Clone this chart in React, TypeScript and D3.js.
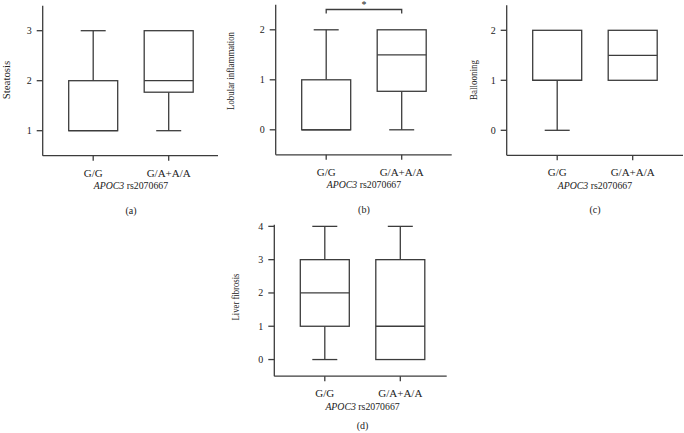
import React from "react";
import * as d3 from "d3";

// ---- data ----
const categories = ["G/G", "G/A+A/A"];
// [min, q1, median, q3, max]
const steatosisStats = [
  [1, 1, 1, 2, 3],
  [1, 1.77, 2, 3, 3],
];
const lobularStats = [
  [0, 0, 0, 1, 2],
  [0, 0.77, 1.5, 2, 2],
];
const ballooningStats = [
  [0, 1, 1, 2, 2],
  [1, 1, 1.5, 2, 2],
];
const fibrosisStats = [
  [0, 1, 2, 3, 4],
  [0, 0, 1, 3, 4],
];
const steatosisTicks = [1, 2, 3];
const lobularTicks = [0, 1, 2];
const ballooningTicks = [0, 1, 2];
const fibrosisTicks = [0, 1, 2, 3, 4];
const xTitle = "rs2070667";
const geneName = "APOC3";

const FONT = "'Liberation Serif', 'DejaVu Serif', serif";
const LINE = "#3c3c3c";
const TEXT = "#222";

type PanelProps = {
  stats: number[][];
  ticks: number[];
  domain: [number, number];
  x0: number;
  x1: number;
  yBottom: number;
  yTop: number;
  yLabel: string;
  yLabelX: number;
  yLabelY: number;
  yLabelLen: number;
  letter: string;
  letterDy?: number;
  sig?: boolean;
};

function Panel(p: PanelProps) {
  const y = d3.scaleLinear().domain(p.domain).range([p.yBottom, p.yTop]);
  const x = d3
    .scalePoint<string>()
    .domain(categories)
    .range([p.x0 + 50.5, p.x0 + 126]);
  const boxW = 49;
  const capW = 25;
  const cx0 = x(categories[0])!;
  const cx1 = x(categories[1])!;
  return (
    <g>
      {/* y axis */}
      <line x1={p.x0} x2={p.x0} y1={p.yTop} y2={p.yBottom} stroke={LINE} strokeWidth={1.3} />
      {p.ticks.map((t) => (
        <g key={t}>
          <line x1={p.x0 - 6} x2={p.x0} y1={y(t)} y2={y(t)} stroke={LINE} strokeWidth={1.3} />
          <text
            x={p.x0 - 11}
            y={y(t)}
            dy="0.35em"
            textAnchor="end"
            fontSize={10}
            fontFamily={FONT}
            fill={TEXT}
          >
            {t}
          </text>
        </g>
      ))}
      {/* x axis */}
      <line x1={p.x0} x2={p.x1} y1={p.yBottom} y2={p.yBottom} stroke={LINE} strokeWidth={1.3} />
      {categories.map((c) => (
        <g key={c}>
          <line x1={x(c)} x2={x(c)} y1={p.yBottom} y2={p.yBottom + 5} stroke={LINE} strokeWidth={1.3} />
          <text
            x={x(c)}
            y={p.yBottom + 21}
            textAnchor="middle"
            fontSize={11}
            fontFamily={FONT}
            fill={TEXT}
          >
            {c}
          </text>
        </g>
      ))}
      <text
        x={(cx0 + cx1) / 2}
        y={p.yBottom + 33.5}
        textAnchor="middle"
        fontSize={9.8}
        fontFamily={FONT}
        fill={TEXT}
      >
        <tspan fontStyle="italic">{geneName}</tspan> {xTitle}
      </text>
      <text
        x={(cx0 + cx1) / 2}
        y={p.yBottom + (p.letterDy ?? 58)}
        textAnchor="middle"
        fontSize={10}
        fontFamily={FONT}
        fill={TEXT}
      >
        {p.letter}
      </text>
      <text
        transform={`translate(${p.yLabelX},${p.yLabelY}) rotate(-90)`}
        dy="0.35em"
        textAnchor="middle"
        fontSize={9.5}
        fontFamily={FONT}
        fill={TEXT}
        textLength={p.yLabelLen}
        lengthAdjust="spacingAndGlyphs"
      >
        {p.yLabel}
      </text>
      {/* boxes */}
      {p.stats.map((s, i) => {
        const cx = x(categories[i])!;
        const [mn, q1, md, q3, mx] = s;
        return (
          <g key={i} stroke={LINE} strokeWidth={1.3} fill="none">
            {mx > q3 && (
              <>
                <line x1={cx} x2={cx} y1={y(q3)} y2={y(mx)} />
                <line x1={cx - capW / 2} x2={cx + capW / 2} y1={y(mx)} y2={y(mx)} />
              </>
            )}
            {mn < q1 && (
              <>
                <line x1={cx} x2={cx} y1={y(q1)} y2={y(mn)} />
                <line x1={cx - capW / 2} x2={cx + capW / 2} y1={y(mn)} y2={y(mn)} />
              </>
            )}
            <rect x={cx - boxW / 2} y={y(q3)} width={boxW} height={y(q1) - y(q3)} fill="#fff" />
            <line x1={cx - boxW / 2} x2={cx + boxW / 2} y1={y(md)} y2={y(md)} />
          </g>
        );
      })}
      {p.sig && (
        <g>
          <path
            d={`M${cx0},${13.5}V${9.5}H${cx1}V${13.5}`}
            fill="none"
            stroke={LINE}
            strokeWidth={1.3}
          />
          <text x={(cx0 + cx1) / 2} y={8} textAnchor="middle" fontSize={10} fontFamily={FONT} fill={TEXT}>
            *
          </text>
        </g>
      )}
    </g>
  );
}

export default function App() {
  return (
    <svg
      width={684}
      height={433}
      style={{ position: "absolute", left: 0, top: 0, background: "#fff" }}
    >
      <rect width={684} height={433} fill="#fff" />
      <Panel
        stats={steatosisStats}
        ticks={steatosisTicks}
        domain={[0.5, 3.5]}
        x0={42.7}
        x1={218}
        yBottom={155.7}
        yTop={5.7}
        yLabel="Steatosis"
        yLabelX={7}
        yLabelY={80}
        yLabelLen={38.5}
        letter="(a)"
      />
      <Panel
        stats={lobularStats}
        ticks={lobularTicks}
        domain={[-0.5, 2.5]}
        x0={275.7}
        x1={451.7}
        yBottom={154.8}
        yTop={4.8}
        yLabel="Lobular inflammation"
        yLabelX={231}
        yLabelY={71}
        yLabelLen={78}
        letter="(b)"
        sig
      />
      <Panel
        stats={ballooningStats}
        ticks={ballooningTicks}
        domain={[-0.5, 2.5]}
        x0={506.7}
        x1={683}
        yBottom={155.3}
        yTop={5.3}
        yLabel="Ballooning"
        yLabelX={474}
        yLabelY={80}
        yLabelLen={40}
        letter="(c)"
      />
      <Panel
        stats={fibrosisStats}
        ticks={fibrosisTicks}
        domain={[-0.5, 4.05]}
        x0={274.3}
        x1={446.7}
        yBottom={376.2}
        yTop={224.7}
        yLabel="Liver fibrosis"
        yLabelX={236}
        yLabelY={297}
        yLabelLen={47}
        letter="(d)"
        letterDy={53}
      />
    </svg>
  );
}
